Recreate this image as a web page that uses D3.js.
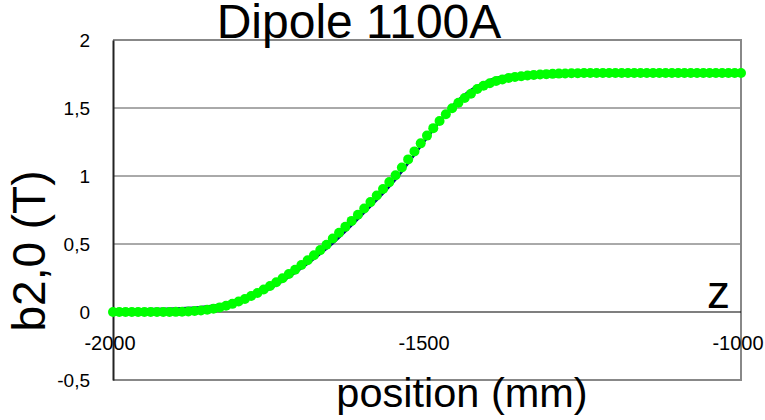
<!DOCTYPE html>
<html>
<head>
<meta charset="utf-8">
<style>
body { margin: 0; background: white; }
text { font-family: "Liberation Sans", Arial, sans-serif; fill: #000; }
.grid { stroke: #555; stroke-width: 1; }
</style>
<title>Dipole 1100A</title>
</head>
<body>
<svg width="765" height="420"></svg>
<script src="https://d3js.org/d3.v7.min.js"></script>
<script>
// measured field profile (green dots)
var positions = [
  -2000, -1990, -1980, -1970, -1960, -1950, -1940, -1930, -1920, -1910,
  -1900, -1890, -1880, -1870, -1860, -1850, -1840, -1830, -1820, -1810,
  -1800, -1790, -1780, -1770, -1760, -1750, -1740, -1730, -1720, -1710,
  -1700, -1690, -1680, -1670, -1660, -1650, -1640, -1630, -1620, -1610,
  -1600, -1590, -1580, -1570, -1560, -1550, -1540, -1530, -1520, -1510,
  -1500, -1490, -1480, -1470, -1460, -1450, -1440, -1430, -1420, -1410,
  -1400, -1390, -1380, -1370, -1360, -1350, -1340, -1330, -1320, -1310,
  -1300, -1290, -1280, -1270, -1260, -1250, -1240, -1230, -1220, -1210,
  -1200, -1190, -1180, -1170, -1160, -1150, -1140, -1130, -1120, -1110,
  -1100, -1090, -1080, -1070, -1060, -1050, -1040, -1030, -1020, -1010,
  -1000
];
var b20 = [
  0.000, 0.000, 0.000, 0.000, 0.000, 0.000, 0.000, 0.000, 0.000, 0.000,
  0.001, 0.002, 0.004, 0.007, 0.011, 0.017, 0.024, 0.034, 0.046, 0.060,
  0.077, 0.096, 0.117, 0.140, 0.165, 0.191, 0.219, 0.248, 0.279, 0.311,
  0.345, 0.380, 0.417, 0.455, 0.495, 0.541, 0.583, 0.626, 0.670, 0.715,
  0.761, 0.808, 0.856, 0.905, 0.955, 1.005, 1.063, 1.122, 1.181, 1.240,
  1.297, 1.352, 1.405, 1.454, 1.498, 1.538, 1.574, 1.605, 1.640, 1.663,
  1.682, 1.698, 1.710, 1.720, 1.728, 1.734, 1.739, 1.743, 1.746, 1.749,
  1.751, 1.753, 1.754, 1.755, 1.756, 1.757, 1.757, 1.757, 1.758, 1.758,
  1.758, 1.758, 1.758, 1.758, 1.758, 1.758, 1.758, 1.758, 1.758, 1.758,
  1.758, 1.758, 1.758, 1.758, 1.758, 1.758, 1.758, 1.758, 1.758, 1.758,
  1.758
];
// reference curve (blue line, mostly hidden under the dots)
var refPositions = [-2000, -1950, -1900, -1850, -1800, -1750, -1700, -1650, -1600,
  -1550, -1500, -1450, -1400, -1350, -1300, -1250, -1200, -1100, -1000];
var refB20 = [0.020, 0.021, 0.025, 0.040, 0.085, 0.172, 0.322, 0.505, 0.730,
  0.975, 1.280, 1.560, 1.705, 1.752, 1.765, 1.767, 1.767, 1.767, 1.767];

var yTicks = [-0.5, 0, 0.5, 1, 1.5, 2];
var yTickLabels = ["-0,5", "0", "0,5", "1", "1,5", "2"];
var xTicks = [-2000, -1500, -1000];

var svg = d3.select("svg");

var x = d3.scaleLinear().domain([-2000, -1000]).range([113, 741]);
var y = d3.scaleLinear().domain([-0.5, 2]).range([380, 40]);

// gridlines
svg.append("g").selectAll("line")
  .data([0.5, 1, 1.5])
  .enter().append("line")
    .attr("class", "grid")
    .attr("x1", x.range()[0]).attr("x2", x.range()[1])
    .attr("y1", function(d) { return y(d); })
    .attr("y2", function(d) { return y(d); });

// plot frame (top, right, bottom)
svg.append("path")
  .attr("d", "M" + x.range()[0] + "," + y(2) + "H" + x.range()[1] + "V" + y(-0.5) + "H" + x.range()[0])
  .attr("fill", "none")
  .attr("stroke", "#888")
  .attr("stroke-width", 2);

// zero line acts as the x axis
svg.append("line")
  .attr("x1", x.range()[0]).attr("x2", x.range()[1])
  .attr("y1", y(0)).attr("y2", y(0))
  .attr("stroke", "#000").attr("stroke-width", 1.2);

// y axis
var yAxis = svg.append("g")
  .attr("transform", "translate(" + x.range()[0] + ",0)")
  .call(d3.axisLeft(y).tickValues(yTicks).tickSize(0).tickPadding(23)
    .tickFormat(function(d, i) { return yTickLabels[i]; }));
yAxis.select(".domain").attr("stroke", "#222").attr("stroke-width", 2);
yAxis.selectAll("text")
  .style("font-family", "'Liberation Sans', Arial, sans-serif")
  .style("font-size", "19px");

// x tick labels under the zero line
svg.append("g").selectAll("text")
  .data(xTicks)
  .enter().append("text")
    .attr("x", function(d) { return x(d) - 3; })
    .attr("y", y(0) + 38)
    .attr("text-anchor", "middle")
    .style("font-size", "20px")
    .text(function(d) { return d; });

// blue line
var line = d3.line()
  .x(function(d) { return x(d[0]); })
  .y(function(d) { return y(d[1]); })
  .curve(d3.curveMonotoneX);

svg.append("path")
  .datum(refPositions.map(function(p, i) { return [p, refB20[i]]; }))
  .attr("d", line)
  .attr("fill", "none")
  .attr("stroke", "#000080")
  .attr("stroke-width", 2.5);

// green dots
svg.append("g").selectAll("circle")
  .data(positions.map(function(p, i) { return [p, b20[i]]; }))
  .enter().append("circle")
    .attr("cx", function(d) { return x(d[0]); })
    .attr("cy", function(d) { return y(d[1]); })
    .attr("r", 5)
    .attr("fill", "#00ff00");

// titles
svg.append("text")
  .attr("x", 359).attr("y", 38)
  .attr("text-anchor", "middle")
  .style("font-size", "48px")
  .text("Dipole 1100A");

svg.append("text")
  .attr("x", 730).attr("y", 308)
  .attr("text-anchor", "end")
  .style("font-size", "46px")
  .text("z");

svg.append("text")
  .attr("x", 462).attr("y", 407)
  .attr("text-anchor", "middle")
  .style("font-size", "41.5px")
  .text("position (mm)");

svg.append("text")
  .attr("transform", "translate(45,251) rotate(-90)")
  .attr("text-anchor", "middle")
  .style("font-size", "46px")
  .text("b2,0 (T)");
</script>
</body>
</html>
